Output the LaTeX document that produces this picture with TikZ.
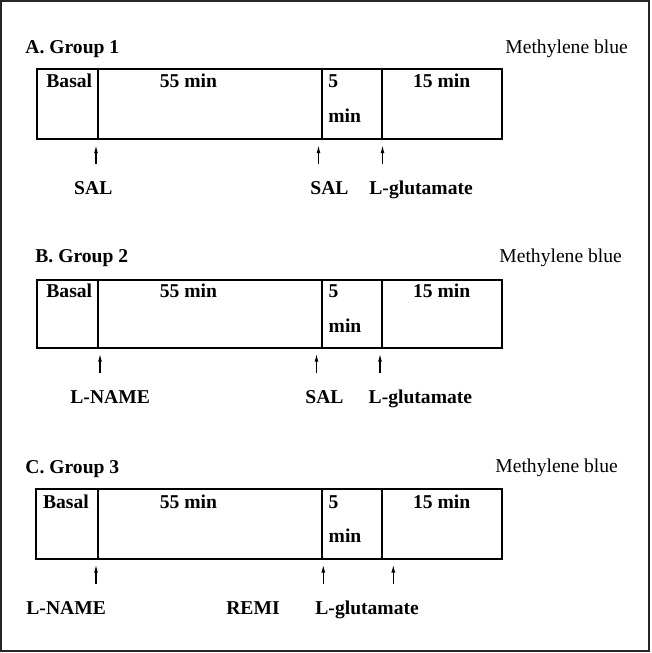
\documentclass[tikz,border=0pt]{standalone}
\usepackage{fontspec}
\setmainfont{Liberation Serif}
\usepackage{tikz}
\usetikzlibrary{arrows.meta}

\tikzset{
	lbl/.style={inner sep=0pt, font=\fontsize{9.8}{12}\selectfont\bfseries},
	dye/.style={inner sep=0pt, font=\fontsize{9.8}{12}\selectfont},
	boxline/.style={line width=1pt, color=black},
	uparrow/.style={-{Latex[length=3.8pt,width=2pt]}, line width=0.55pt, color=black}
}

\begin{document}
\begin{tikzpicture}[x=0.5pt, y=-0.5pt]
	\useasboundingbox (0,0) rectangle (652,653);
	\draw[line width=0.75pt, color=black!85] (1,1) rectangle (649,651);

	% A. Group 1
	\node[lbl, anchor=base west] (titleA) at (25,53.5) {A. Group 1};
	\node[dye, anchor=base west] (dyeA) at (505,53.5) {Methylene blue};
	\draw[boxline] (37.3,69) rectangle (501.7,139.3);
	\draw[boxline] (97.7,69) -- (97.7,139.3);
	\draw[boxline] (322,69) -- (322,139.3);
	\draw[boxline] (382,69) -- (382,139.3);
	\node[lbl, anchor=base west] (basalA) at (46,87.5) {Basal};
	\node[lbl, anchor=base] (longA) at (188.5,87.5) {55 min};
	\node[lbl, anchor=base west] (fiveA) at (328,87.5) {5};
	\node[lbl, anchor=base west] (minA) at (328,122.5) {min};
	\node[lbl, anchor=base] (lastA) at (441.7,87.5) {15 min};
	\coordinate (a1s) at (96,164);   \coordinate (a1e) at (96,145.5);
	\coordinate (a2s) at (318.5,164); \coordinate (a2e) at (318.5,145.5);
	\coordinate (a3s) at (382.5,164); \coordinate (a3e) at (382.5,145.5);
	\draw[uparrow] (a1s) -- (a1e);
	\draw[uparrow] (a2s) -- (a2e);
	\draw[uparrow] (a3s) -- (a3e);
	\node[lbl, anchor=base] (salA) at (93.3,194.5) {SAL};
	\node[lbl, anchor=base west] (salbA) at (310,194.5) {SAL};
	\node[lbl, anchor=base west] (gluA) at (369,194.5) {L-glutamate};

	% B. Group 2
	\node[lbl, anchor=base west] (titleB) at (35,262.5) {B. Group 2};
	\node[dye, anchor=base west] (dyeB) at (499,262) {Methylene blue};
	\draw[boxline] (37.3,280.3) rectangle (501.7,348.3);
	\draw[boxline] (97.7,280.3) -- (97.7,348.3);
	\draw[boxline] (322,280.3) -- (322,348.3);
	\draw[boxline] (382,280.3) -- (382,348.3);
	\node[lbl, anchor=base west] (basalB) at (46,297.5) {Basal};
	\node[lbl, anchor=base] (longB) at (188.5,297.5) {55 min};
	\node[lbl, anchor=base west] (fiveB) at (328.3,297.5) {5};
	\node[lbl, anchor=base west] (minB) at (328.3,332) {min};
	\node[lbl, anchor=base] (lastB) at (441.7,297.5) {15 min};
	\coordinate (b1s) at (100,373.3);   \coordinate (b1e) at (100,354);
	\coordinate (b2s) at (316.5,373.3); \coordinate (b2e) at (316.5,354);
	\coordinate (b3s) at (380,373.3);   \coordinate (b3e) at (380,354);
	\draw[uparrow] (b1s) -- (b1e);
	\draw[uparrow] (b2s) -- (b2e);
	\draw[uparrow] (b3s) -- (b3e);
	\node[lbl, anchor=base west] (nameB) at (70,403.5) {L-NAME};
	\node[lbl, anchor=base west] (salB) at (305,403.5) {SAL};
	\node[lbl, anchor=base west] (gluB) at (368.3,403.5) {L-glutamate};

	% C. Group 3
	\node[lbl, anchor=base west] (titleC) at (25,473.3) {C. Group 3};
	\node[dye, anchor=base west] (dyeC) at (495,472.5) {Methylene blue};
	\draw[boxline] (36,489.3) rectangle (501.7,559.3);
	\draw[boxline] (97.7,489.3) -- (97.7,559.3);
	\draw[boxline] (322,489.3) -- (322,559.3);
	\draw[boxline] (382,489.3) -- (382,559.3);
	\node[lbl, anchor=base west] (basalC) at (42.7,508.3) {Basal};
	\node[lbl, anchor=base] (longC) at (188.5,508.3) {55 min};
	\node[lbl, anchor=base west] (fiveC) at (328.3,508.3) {5};
	\node[lbl, anchor=base west] (minC) at (328.3,542.7) {min};
	\node[lbl, anchor=base] (lastC) at (441.7,508.3) {15 min};
	\coordinate (c1s) at (96,584);    \coordinate (c1e) at (96,565);
	\coordinate (c2s) at (323.3,584); \coordinate (c2e) at (323.3,565);
	\coordinate (c3s) at (393.3,584); \coordinate (c3e) at (393.3,565);
	\draw[uparrow] (c1s) -- (c1e);
	\draw[uparrow] (c2s) -- (c2e);
	\draw[uparrow] (c3s) -- (c3e);
	\node[lbl, anchor=base west] (nameC) at (26,614) {L-NAME};
	\node[lbl, anchor=base] (remiC) at (253,614) {REMI};
	\node[lbl, anchor=base west] (gluC) at (315,614) {L-glutamate};
\end{tikzpicture}
\end{document}
